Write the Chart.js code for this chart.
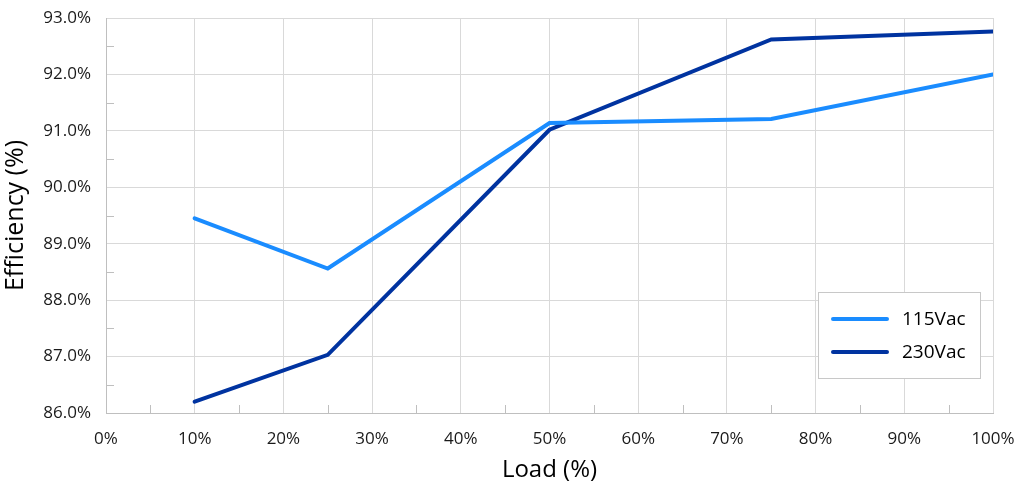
<!DOCTYPE html>
<html>
<head>
<meta charset="utf-8">
<script src="https://cdn.jsdelivr.net/npm/chart.js@4/dist/chart.umd.min.js"></script>
<style>
  html, body { margin: 0; padding: 0; background: #fff; }
  #wrap { width: 1016px; height: 488px; position: relative; }
</style>
</head>
<body>
<div id="wrap"><canvas id="c" width="1016" height="488"></canvas></div>
<script>
// Data
const loads = [10, 25, 50, 75, 100];                       // Load (%)
const eff115 = [89.45, 88.56, 91.14, 91.21, 92.00];         // 115Vac efficiency (%)
const eff230 = [86.20, 87.03, 91.02, 92.62, 92.76];         // 230Vac efficiency (%)
const seriesNames = ['115Vac', '230Vac'];
const xTitle = 'Load (%)';
const yTitle = 'Efficiency (%)';

const FONT = "'Open Sans', sans-serif";
const GRID = '#d9d9d9';
const AXIS = '#bfbfbf';

function pts(xs, ys) { return xs.map((x, i) => ({ x: x, y: ys[i] })); }

// Minor ticks (inside plot) + boxed legend
const extras = {
  id: 'extras',
  afterDatasetsDraw(chart) {
    const ctx = chart.ctx;
    const xs = chart.scales.x, ys = chart.scales.y;
    const ca = chart.chartArea;
    ctx.save();
    ctx.strokeStyle = AXIS;
    ctx.lineWidth = 1;
    for (let v = xs.min + 5; v < xs.max; v += 10) {
      const px = Math.round(xs.getPixelForValue(v)) + 0.5;
      ctx.beginPath(); ctx.moveTo(px, ca.bottom); ctx.lineTo(px, ca.bottom - 8); ctx.stroke();
    }
    for (let v = ys.min + 0.5; v < ys.max; v += 1) {
      const py = Math.round(ys.getPixelForValue(v)) + 0.5;
      ctx.beginPath(); ctx.moveTo(ca.left, py); ctx.lineTo(ca.left + 8, py); ctx.stroke();
    }
    const bx = 818.5, by = 292.5, bw = 162, bh = 86;
    ctx.fillStyle = '#fff';
    ctx.fillRect(bx, by, bw, bh);
    ctx.strokeStyle = '#c8c8c8';
    ctx.strokeRect(bx, by, bw, bh);
    ctx.font = '19px ' + FONT;
    ctx.textBaseline = 'middle';
    chart.data.datasets.forEach((ds, i) => {
      const ly = 319 + i * 33;
      ctx.strokeStyle = ds.borderColor;
      ctx.lineWidth = 4;
      ctx.lineCap = 'round';
      ctx.beginPath(); ctx.moveTo(833, ly); ctx.lineTo(887, ly); ctx.stroke();
      ctx.fillStyle = '#000';
      ctx.fillText(ds.label, 902, ly + 1);
    });
    ctx.restore();
  }
};

new Chart(document.getElementById('c'), {
  type: 'line',
  data: {
    datasets: [
      { label: seriesNames[0], data: pts(loads, eff115), borderColor: '#1a8cff', borderWidth: 4, pointRadius: 0, tension: 0, fill: false, borderCapStyle: 'round', borderJoinStyle: 'miter' },
      { label: seriesNames[1], data: pts(loads, eff230), borderColor: '#0033a0', borderWidth: 4, pointRadius: 0, tension: 0, fill: false, borderCapStyle: 'round', borderJoinStyle: 'miter' }
    ]
  },
  options: {
    responsive: false,
    animation: false,
    devicePixelRatio: 1,
    layout: { padding: { left: 0, right: 23, top: 18, bottom: 0 } },
    plugins: { legend: { display: false }, tooltip: { enabled: false } },
    scales: {
      x: {
        type: 'linear', min: 0, max: 100,
        ticks: { stepSize: 10, padding: 16, color: '#1a1a1a', font: { family: FONT, size: 17 }, callback: v => v + '%' },
        grid: { color: GRID, drawTicks: false, lineWidth: 1 },
        border: { color: AXIS },
        title: { display: true, text: xTitle, color: '#000', font: { family: FONT, size: 24 }, padding: { top: 4, bottom: 3 } },
        afterFit(s) { s.height = 75; s.paddingLeft = 0; s.paddingRight = 0; }
      },
      y: {
        min: 86, max: 93,
        ticks: { stepSize: 1, padding: 15, color: '#1a1a1a', font: { family: FONT, size: 17 }, callback: v => v.toFixed(1) + '%' },
        grid: { color: GRID, drawTicks: false, lineWidth: 1 },
        border: { color: AXIS },
        title: { display: true, text: yTitle, color: '#000', font: { family: FONT, size: 25 }, padding: { top: 1, bottom: 4 } },
        afterFit(s) { s.width = 106; s.paddingTop = 0; s.paddingBottom = 0; }
      }
    }
  },
  plugins: [extras]
});
</script>
</body>
</html>
